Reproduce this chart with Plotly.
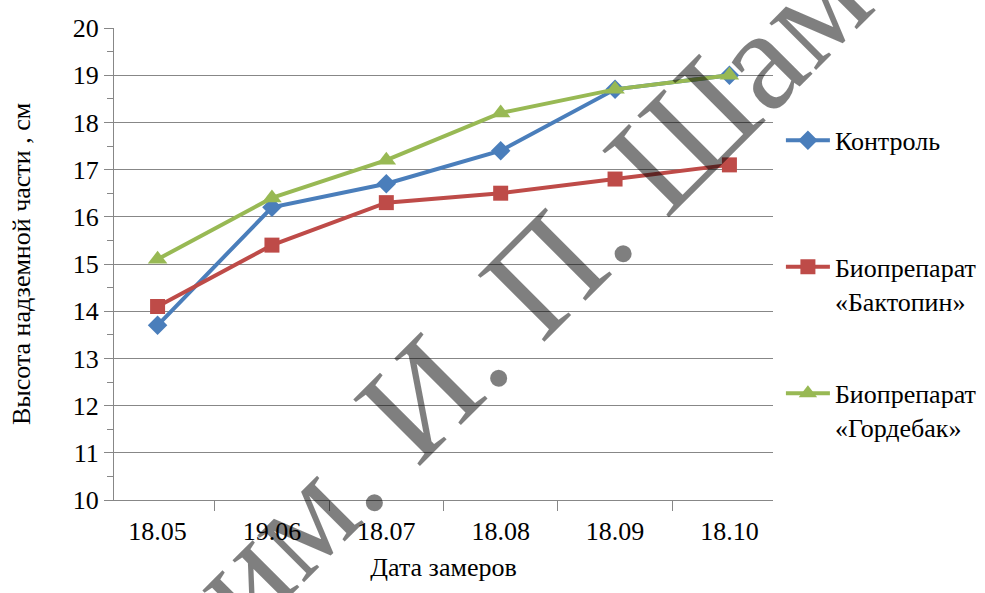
import plotly.graph_objects as go

# Measurement dates (category axis)
dates = ["18.05", "19.06", "18.07", "18.08", "18.09", "18.10"]

# Above-ground height, cm
control = [13.7, 16.2, 16.7, 17.4, 18.7, 19.0]
baktopin = [14.1, 15.4, 16.3, 16.5, 16.8, 17.1]
gordebak = [15.1, 16.4, 17.2, 18.2, 18.7, 19.0]

names = ["Контроль<br> ", "Биопрепарат<br>«Бактопин»", "Биопрепарат<br>«Гордебак»"]
colors = ["#4A7EBB", "#BE4B48", "#98B954"]
symbols = ["diamond", "square", "triangle-up"]
sizes = [15, 15, 17]
series = [control, baktopin, gordebak]

FONT = "Liberation Serif, serif"
AXIS_GRAY = "#878787"

fig = go.Figure()
for i, (name, vals, col, sym, sz) in enumerate(zip(names, series, colors, symbols, sizes)):
    fig.add_trace(go.Scatter(
        x=dates, y=vals, name=name, mode="lines+markers",
        line=dict(color=col, width=4),
        marker=dict(symbol=sym, size=sz, color=col, line=dict(width=0)),
        legendgroup=f"g{i}",
    ))

fig.update_layout(
    width=985, height=593,
    margin=dict(l=114, r=212, t=28, b=93, autoexpand=False),
    paper_bgcolor="white", plot_bgcolor="white",
    showlegend=True,
    legend=dict(
        x=1.012, y=0.812, xanchor="left", yanchor="top", valign="top",
        font=dict(family=FONT, size=26, color="black"),
        bgcolor="rgba(0,0,0,0)", borderwidth=0,
        itemwidth=44, tracegroupgap=56,
    ),
    xaxis=dict(
        type="category", tickson="boundaries",
        ticks="outside", ticklen=10, tickcolor=AXIS_GRAY, tickwidth=1,
        showline=True, linecolor=AXIS_GRAY, linewidth=1,
        showgrid=False, zeroline=False,
        ticklabelstandoff=8,
        tickfont=dict(family=FONT, size=26, color="black"),
        title=dict(text="Дата замеров", font=dict(family=FONT, size=26, color="black"), standoff=12),
    ),
    yaxis=dict(
        range=[10, 20], dtick=1, tick0=10,
        ticks="outside", ticklen=9, tickcolor=AXIS_GRAY, tickwidth=1,
        showline=True, linecolor=AXIS_GRAY, linewidth=1,
        showgrid=True, gridcolor=AXIS_GRAY, gridwidth=1, zeroline=False,
        minor=dict(dtick=0.5, ticks="outside", ticklen=6, tickcolor=AXIS_GRAY, showgrid=False),
        tickfont=dict(family=FONT, size=26, color="black"),
        title=dict(text="Высота надземной части , см", font=dict(family=FONT, size=26, color="black"), standoff=34),
    ),
)

# watermark stamped over the chart
fig.add_annotation(
    text="им. И. П. Шам", xref="paper", yref="paper",
    x=0.628, y=0.447, xanchor="center", yanchor="middle",
    textangle=-45, showarrow=False,
    font=dict(family=FONT, size=144, color="rgba(0,0,0,0.5)"),
)

fig.write_html("out.html")
